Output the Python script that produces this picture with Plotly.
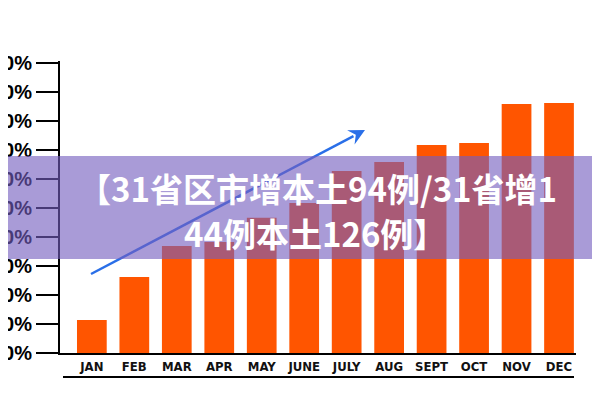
import plotly.graph_objects as go

# Données
months = ["JAN", "FEB", "MAR", "APR", "MAY", "JUNE", "JULY", "AUG", "SEPT", "OCT", "NOV", "DEC"]
values = [11.4, 26.2, 36.9, 38.3, 46.6, 51.7, 62.8, 65.9, 71.7, 72.4, 85.9, 86.2]
y_ticks = [0, 10, 20, 30, 40, 50, 60, 70, 80, 90, 100]
title_lines = ["【31省区市增本土94例/31省增1", "44例本土126例】"]

# zone de tracé (pixels)
L, R, T, B = 52, 32, 53, 55
W, H = 600 - L - R, 400 - T - B


def paper(x, y):
    # pixel -> coordonnées papier
    return (x - L) / W, (400 - B - y) / H


fig = go.Figure()
fig.add_trace(go.Bar(x=months, y=values, marker=dict(color="#ff5500", line=dict(width=0)),
                     showlegend=False, hoverinfo="skip"))

shapes = []

# flèche bleue (sous le bandeau)
sx, sy = 83, 266
tx, ty = 357, 122
dx, dy = tx - sx, ty - sy
n = (dx ** 2 + dy ** 2) ** 0.5
ux, uy = dx / n, dy / n
nx, ny = -uy, ux
hl, hw = 16, 8
bx, by = tx - hl * ux, ty - hl * uy
x0, y0 = paper(sx, sy)
x1, y1 = paper(bx + 3 * ux, by + 3 * uy)
shapes.append(dict(type="line", xref="paper", yref="paper", x0=x0, y0=y0, x1=x1, y1=y1,
                   line=dict(color="#2a6fe8", width=2.5), layer="above"))
p1 = paper(tx, ty)
p2 = paper(bx + hw * nx, by + hw * ny)
p3 = paper(bx + 0.35 * hl * ux, by + 0.35 * hl * uy)
p4 = paper(bx - hw * nx, by - hw * ny)
path = f"M{p1[0]},{p1[1]} L{p2[0]},{p2[1]} L{p3[0]},{p3[1]} L{p4[0]},{p4[1]} Z"
shapes.append(dict(type="path", xref="paper", yref="paper", path=path,
                   fillcolor="#2a6fe8", line=dict(width=0), layer="above"))

# bandeau violet
bx0, by0 = paper(0, 148)
bx1, by1 = paper(600, 251)
shapes.append(dict(type="rect", xref="paper", yref="paper", x0=bx0, y0=by1, x1=bx1, y1=by0,
                   fillcolor="rgba(116,94,190,0.62)", line=dict(width=0), layer="above"))

# ligne sous les mois
lx0, ly = paper(55, 369)
lx1, _ = paper(566, 369)
shapes.append(dict(type="line", xref="paper", yref="paper", x0=lx0, y0=ly, x1=lx1, y1=ly,
                   line=dict(color="black", width=2), layer="above"))

annotations = []
for (cx, cy), txt in zip([(309, 180), (307, 225)], title_lines):
    ax_, ay_ = paper(cx, cy)
    annotations.append(dict(text=txt, x=ax_, y=ay_, xref="paper", yref="paper",
                            xanchor="center", yanchor="middle", showarrow=False,
                            font=dict(family="Noto Sans CJK SC", size=33, color="white", weight="bold")))

fig.update_layout(
    width=600, height=400,
    margin=dict(l=L, r=R, t=T, b=B, autoexpand=False),
    paper_bgcolor="white", plot_bgcolor="white",
    bargap=0.3,
    shapes=shapes,
    annotations=annotations,
)
fig.update_xaxes(type="category", range=[-0.75, 11.4], showline=True, linecolor="black",
                 linewidth=2, ticks="", showgrid=False, zeroline=False, automargin=False,
                 tickfont=dict(family="DejaVu Sans Condensed", size=13, color="#111", weight="bold"))
fig.update_yaxes(range=[0, 100.7], tickvals=y_ticks, ticktext=[f"{v}%" for v in y_ticks],
                 showline=True, linecolor="black", linewidth=2, ticks="outside",
                 ticklen=22, tickwidth=2, tickcolor="black", showgrid=False, zeroline=False,
                 automargin=False,
                 tickfont=dict(family="Liberation Sans", size=20, color="black", weight="bold"))

fig.write_html("out.html")
